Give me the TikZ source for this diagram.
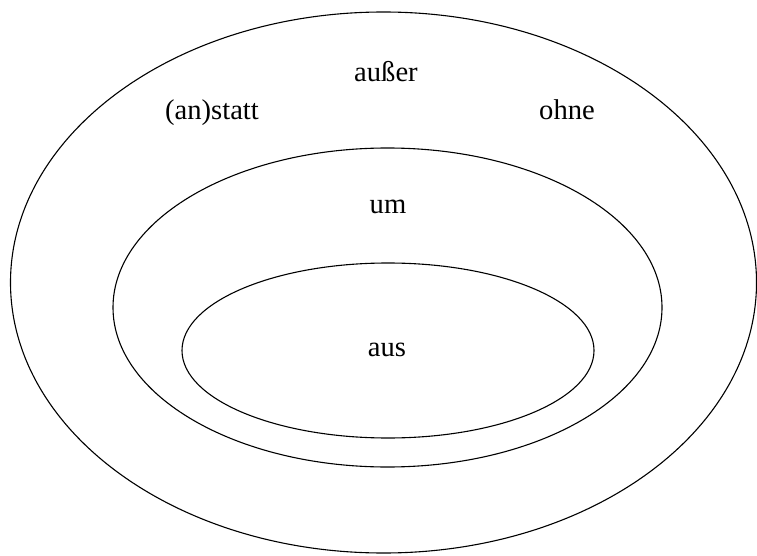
\documentclass[tikz,border=0pt]{standalone}
\usepackage{fontspec}
\newfontfamily\wordfont{Liberation Serif}
\usepackage{tikz}
\usetikzlibrary{calc}

\begin{document}
\begin{tikzpicture}[x=1pt, y=-1pt,
    ring/.style={black, line width=1.1pt},
    word/.style={anchor=base, inner sep=0pt, font=\wordfont\fontsize{28.6}{34}\selectfont}]

    % 1. Fix the canvas
    \useasboundingbox (0,0) rectangle (757,556);

    % 2. Centres of the three ellipses
    \coordinate (O) at (383.5, 282.5); % outer
    \coordinate (M) at (387.5, 307.5); % middle
    \coordinate (I) at (388, 350.5);   % inner

    % 3. Draw the nested ellipses
    \draw[ring] (O) ellipse [x radius=373, y radius=270.5];
    \draw[ring] (M) ellipse [x radius=274.5, y radius=159.5];
    \draw[ring] (I) ellipse [x radius=206, y radius=87.5];

    % 4. Place the words
    \foreach \nm/\x/\y/\txt in {
        ausser/386/82/{außer},
        anstatt/212/120/{(an)statt},
        ohne/567/120/{ohne},
        um/388/213/{um},
        aus/387/356/{aus}%
    } {
        \node[word] (\nm) at (\x,\y) {\txt};
    }

\end{tikzpicture}
\end{document}
